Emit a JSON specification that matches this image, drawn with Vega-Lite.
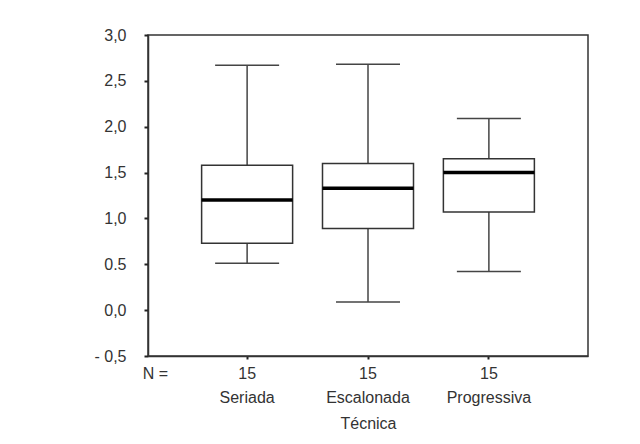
{
  "$schema": "https://vega.github.io/schema/vega-lite/v6.json",
  "width": 440,
  "height": 321,
  "autosize": {"type": "none"},
  "padding": {"left": 148, "top": 35, "right": 52, "bottom": 88},
  "background": "white",
  "config": {
    "font": "Liberation Sans",
    "view": {"stroke": "#333", "strokeWidth": 1.5},
    "axis": {"grid": false, "domainColor": "#333", "domainWidth": 1.5, "tickColor": "#222", "tickWidth": 2, "labelColor": "#333", "labelFont": "Liberation Sans", "labelFontSize": 16, "titleFont": "Liberation Sans", "titleFontSize": 16, "titleFontWeight": "normal", "titleColor": "#333"}
  },
  "data": {"values": [
    {"tecnica": "Seriada", "n": 15, "min": 0.51, "q1": 0.73, "median": 1.2, "q3": 1.58, "max": 2.67},
    {"tecnica": "Escalonada", "n": 15, "min": 0.09, "q1": 0.89, "median": 1.33, "q3": 1.6, "max": 2.68},
    {"tecnica": "Progressiva", "n": 15, "min": 0.42, "q1": 1.07, "median": 1.5, "q3": 1.65, "max": 2.09}
  ]},
  "encoding": {
    "x": {
      "field": "tecnica", "type": "nominal", "sort": null,
      "scale": {"paddingInner": 0, "paddingOuter": 0.32},
      "axis": {
        "title": "Técnica", "labelAngle": 0, "tickSize": 3, "labelPadding": 6,
        "labelExpr": "['15', datum.label]", "labelLineHeight": 24, "titlePadding": 10
      }
    }
  },
  "layer": [
    {
      "mark": {"type": "rule", "color": "#444", "strokeWidth": 1.5},
      "encoding": {
        "y": {
          "field": "min", "type": "quantitative",
          "scale": {"domain": [-0.5, 3], "nice": false, "zero": false},
          "axis": {
            "values": [-0.5, 0, 0.5, 1, 1.5, 2, 2.5, 3],
            "tickSize": 4, "labelPadding": 18,
            "labelExpr": "datum.value == 0.5 ? '0.5' : (datum.value < 0 ? '- 0,5' : replace(format(datum.value, '.1f'), '.', ','))",
            "title": "N =", "titleAngle": 0, "titleAlign": "center", "titleBaseline": "alphabetic",
            "titleX": 7, "titleY": 343
          }
        },
        "y2": {"field": "max"}
      }
    },
    {
      "mark": {"type": "bar", "fill": "white", "stroke": "#333", "strokeWidth": 1.5, "size": 91},
      "encoding": {
        "y": {"field": "q1", "type": "quantitative"},
        "y2": {"field": "q3"}
      }
    },
    {
      "mark": {"type": "tick", "color": "#000", "size": 91, "thickness": 3.5, "opacity": 1},
      "encoding": {"y": {"field": "median", "type": "quantitative"}}
    },
    {
      "mark": {"type": "tick", "color": "#444", "size": 64, "thickness": 1.5, "opacity": 1},
      "encoding": {"y": {"field": "min", "type": "quantitative"}}
    },
    {
      "mark": {"type": "tick", "color": "#444", "size": 64, "thickness": 1.5, "opacity": 1},
      "encoding": {"y": {"field": "max", "type": "quantitative"}}
    }
  ]
}
